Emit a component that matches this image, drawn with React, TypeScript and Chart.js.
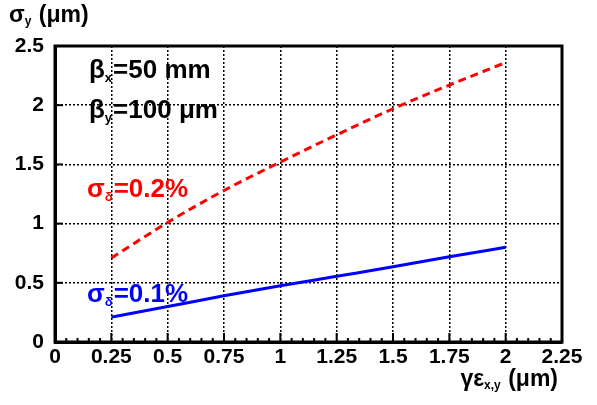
import React, { useEffect, useRef } from "react";
import { Chart, registerables } from "chart.js";

Chart.register(...registerables);

const xValues = [0.25, 0.5, 0.75, 1.0, 1.25, 1.5, 1.75, 2.0];
const sigma02 = [0.71, 1.01, 1.28, 1.52, 1.75, 1.97, 2.17, 2.36];
const sigma01 = [0.21, 0.3, 0.39, 0.475, 0.555, 0.635, 0.72, 0.8];

const FONT = "'Liberation Sans', Arial, sans-serif";

function drawSub(
  ctx: CanvasRenderingContext2D,
  x: number,
  y: number,
  base: string,
  sub: string,
  rest: string,
  size: number,
  color: string,
  alignRight = false
) {
  ctx.save();
  ctx.fillStyle = color;
  ctx.textBaseline = "alphabetic";
  ctx.textAlign = "left";
  const big = `bold ${size}px ${FONT}`;
  const small = `bold ${Math.round(size * 0.5)}px ${FONT}`;
  ctx.font = big;
  const wb = ctx.measureText(base).width;
  const wr = ctx.measureText(rest).width;
  ctx.font = small;
  const ws = ctx.measureText(sub).width;
  let sx = alignRight ? x - (wb + ws + wr + 1) : x;
  ctx.font = big;
  ctx.fillText(base, sx, y);
  sx += wb;
  ctx.font = small;
  ctx.fillText(sub, sx, y + size * 0.15);
  sx += ws + 1;
  ctx.font = big;
  ctx.fillText(rest, sx, y);
  ctx.restore();
}

const fmt = (v: any) => String(+Number(v).toFixed(2));

const framePlugin = {
  id: "frameAndText",
  afterDraw(chart: any) {
    const ctx = chart.ctx as CanvasRenderingContext2D;
    const { left, right, top, bottom } = chart.chartArea;
    const xs = chart.scales.x;
    const ys = chart.scales.y;
    ctx.save();
    ctx.strokeStyle = "#000";
    ctx.lineWidth = 2;
    for (let i = 0; i <= 45; i++) {
      const v = i * 0.05;
      const px = xs.getPixelForValue(v);
      const major = i % 5 === 0;
      ctx.beginPath();
      ctx.moveTo(px, bottom);
      ctx.lineTo(px, bottom - (major ? 9 : 4));
      ctx.stroke();
    }
    for (let i = 0; i <= 5; i++) {
      const py = ys.getPixelForValue(i * 0.5);
      ctx.beginPath();
      ctx.moveTo(left, py);
      ctx.lineTo(left + 8, py);
      ctx.stroke();
    }
    ctx.lineWidth = 3;
    ctx.beginPath();
    ctx.moveTo(left, top);
    ctx.lineTo(right, top);
    ctx.lineTo(right, bottom);
    ctx.lineTo(left, bottom);
    ctx.closePath();
    ctx.stroke();
    ctx.restore();

    drawSub(ctx, 9, 22, "σ", "y", " (μm)", 23, "#000");
    drawSub(ctx, 558, 386, "γε", "x,y", " (μm)", 23, "#000", true);
    drawSub(ctx, 89, 78, "β", "x", "=50 mm", 26, "#000");
    drawSub(ctx, 89, 118, "β", "y", "=100 μm", 26, "#000");
    drawSub(ctx, 87, 197, "σ", "δ", "=0.2%", 26, "#ff0000");
    drawSub(ctx, 87, 302, "σ", "δ", "=0.1%", 26, "#0000ff");
  },
};

export default function App() {
  const ref = useRef<HTMLCanvasElement>(null);
  useEffect(() => {
    if (!ref.current) return;
    const chart = new Chart(ref.current, {
      type: "line",
      data: {
        datasets: [
          {
            label: "σδ=0.2%",
            data: xValues.map((x, i) => ({ x, y: sigma02[i] })),
            borderColor: "#ff0000",
            borderWidth: 3,
            borderDash: [8, 5],
            pointRadius: 0,
            cubicInterpolationMode: "monotone",
            fill: false,
          },
          {
            label: "σδ=0.1%",
            data: xValues.map((x, i) => ({ x, y: sigma01[i] })),
            borderColor: "#0000ff",
            borderWidth: 3,
            pointRadius: 0,
            cubicInterpolationMode: "monotone",
            fill: false,
          },
        ],
      },
      options: {
        responsive: false,
        animation: false,
        events: [],
        layout: { padding: { top: 46, right: 35, left: 0, bottom: 0 } },
        plugins: {
          legend: { display: false },
          tooltip: { enabled: false },
          title: { display: false },
        },
        scales: {
          x: {
            type: "linear",
            min: 0,
            max: 2.25,
            afterFit: (s: any) => {
              s.height = 63;
            },
            ticks: {
              stepSize: 0.25,
              color: "#000",
              font: { family: FONT, size: 21, weight: "bold" },
              padding: 3,
              maxRotation: 0,
              autoSkip: false,
              callback: fmt,
            },
            grid: {
              color: "#000",
              lineWidth: 1.5,
              drawTicks: false,
            },
            border: { display: true, color: "#000", width: 3, dash: [2, 2] },
          },
          y: {
            type: "linear",
            min: 0,
            max: 2.5,
            afterFit: (s: any) => {
              s.width = 55;
            },
            ticks: {
              stepSize: 0.5,
              color: "#000",
              font: { family: FONT, size: 21, weight: "bold" },
              padding: 11,
              callback: fmt,
            },
            grid: {
              color: "#000",
              lineWidth: 1.5,
              drawTicks: false,
            },
            border: { display: true, color: "#000", width: 3, dash: [2, 2] },
          },
        },
      },
      plugins: [framePlugin],
    } as any);
    return () => chart.destroy();
  }, []);
  return (
    <div style={{ position: "absolute", left: 0, top: 0, width: 597, height: 405, background: "#fff" }}>
      <canvas ref={ref} width={597} height={405} />
    </div>
  );
}
